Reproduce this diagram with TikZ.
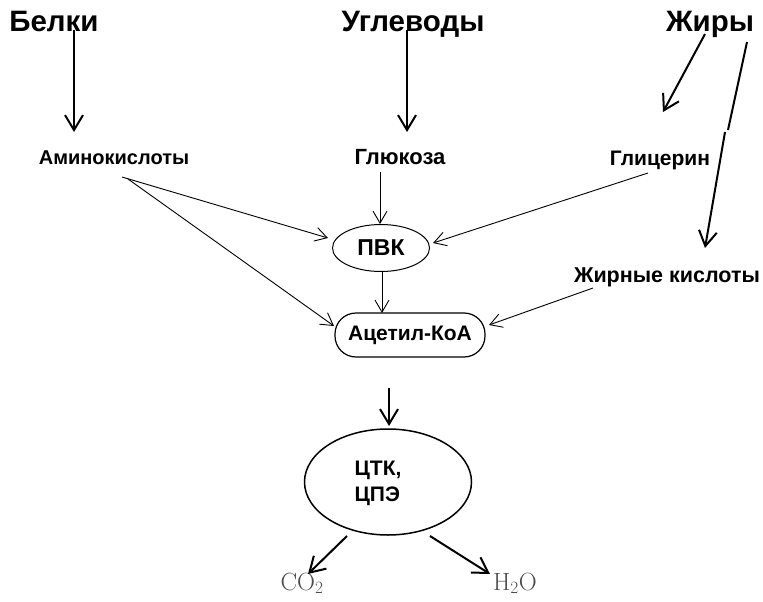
\documentclass[tikz,border=0pt]{standalone}
\usepackage[no-math]{fontspec}
\setmainfont{Liberation Sans}
\usetikzlibrary{arrows.meta,shapes.geometric}
\begin{document}
\begin{tikzpicture}[x=1pt,y=-1pt,
  big/.style={font=\bfseries\fontsize{29.5}{32}\selectfont, inner sep=0, anchor=base},
  mid/.style={inner sep=0, anchor=base},
  chem/.style={font=\fontsize{24}{28}\selectfont, text=black!70, inner sep=0, anchor=base},
  bigarrow/.style={line width=2pt, -{Straight Barb[length=15pt,width=18pt]}},
  thinarrow/.style={line width=0.9pt, -{Straight Barb[length=12pt,width=14pt]}},
]
\useasboundingbox[fill=white] (0,0) rectangle (763,602);

% nodes
\node[big] (belki) at (54,32) {Белки};
\node[big] (ugl) at (413,32) {Углеводы};
\node[big] (zhiry) at (710,32) {Жиры};
\node[mid, font=\bfseries\fontsize{20}{22}\selectfont] (amino) at (114,164) {Аминокислоты};
\node[mid, font=\bfseries\fontsize{22}{24}\selectfont] (gluc) at (400,164) {Глюкоза};
\node[mid, font=\bfseries\fontsize{21}{24}\selectfont] (glyc) at (660,165) {Глицерин};
\node[mid, font=\bfseries\fontsize{21.5}{24}\selectfont] (fa) at (667,282) {Жирные кислоты};
\node[draw, ellipse, line width=1pt, minimum width=97, minimum height=47, inner sep=0,
      font=\bfseries\fontsize{23}{26}\selectfont] (pvk) at (381,248) {ПВК};
\node[draw, rounded corners=21pt, line width=1.2pt, minimum width=150, minimum height=44, inner sep=0,
      font=\bfseries\fontsize{21}{24}\selectfont] (acetyl) at (410,335) {Ацетил-КоА};
\node[draw, ellipse, line width=1.5pt, minimum width=167, minimum height=106, inner sep=0] (tca) at (388,482) {};
\node[font=\bfseries\fontsize{21}{26}\selectfont, align=left, inner sep=0] (tcatext) at (378,483) {ЦТК,\\ЦПЭ};
\node[chem] (co2) at (302,590) {$\mathrm{CO}_2$};
\node[chem] (h2o) at (515,590) {$\mathrm{H}_2\mathrm{O}$};

% connector end points
\coordinate (bs) at (74,30);   \coordinate (be) at (74,132);
\coordinate (us) at (407,30);  \coordinate (ue) at (407,132);
\coordinate (z1s) at (705,34); \coordinate (z1e) at (663,112);
\coordinate (z2s) at (747,42); \coordinate (z2m) at (728,130);
\coordinate (z3s) at (725,132); \coordinate (z3e) at (705,248);
\coordinate (gs) at (380,172); \coordinate (ge) at (380,224);
\coordinate (a1s) at (122,177); \coordinate (a1e) at (328,238);
\coordinate (a2s) at (128,179); \coordinate (a2e) at (334,326);
\coordinate (ls) at (648,173); \coordinate (le) at (433,243);
\coordinate (fs) at (593,288); \coordinate (fe) at (489,325);
\coordinate (ps) at (382,272); \coordinate (pe) at (382,313);
\coordinate (ts) at (389,388); \coordinate (te) at (389,426);
\coordinate (cs) at (347,536); \coordinate (ce) at (308,574);
\coordinate (hs) at (430,536); \coordinate (he) at (490,574);

% connectors
\draw[bigarrow] (bs) -- (be);
\draw[bigarrow] (us) -- (ue);
\draw[bigarrow] (z1s) -- (z1e);
\draw[line width=2pt] (z2s) -- (z2m);
\draw[bigarrow] (z3s) -- (z3e);
\draw[thinarrow] (gs) -- (ge);
\draw[thinarrow] (a1s) -- (a1e);
\draw[thinarrow] (a2s) -- (a2e);
\draw[thinarrow] (ls) -- (le);
\draw[thinarrow] (fs) -- (fe);
\draw[thinarrow] (ps) -- (pe);
\draw[bigarrow] (ts) -- (te);
\draw[bigarrow] (cs) -- (ce);
\draw[bigarrow] (hs) -- (he);
\end{tikzpicture}
\end{document}
